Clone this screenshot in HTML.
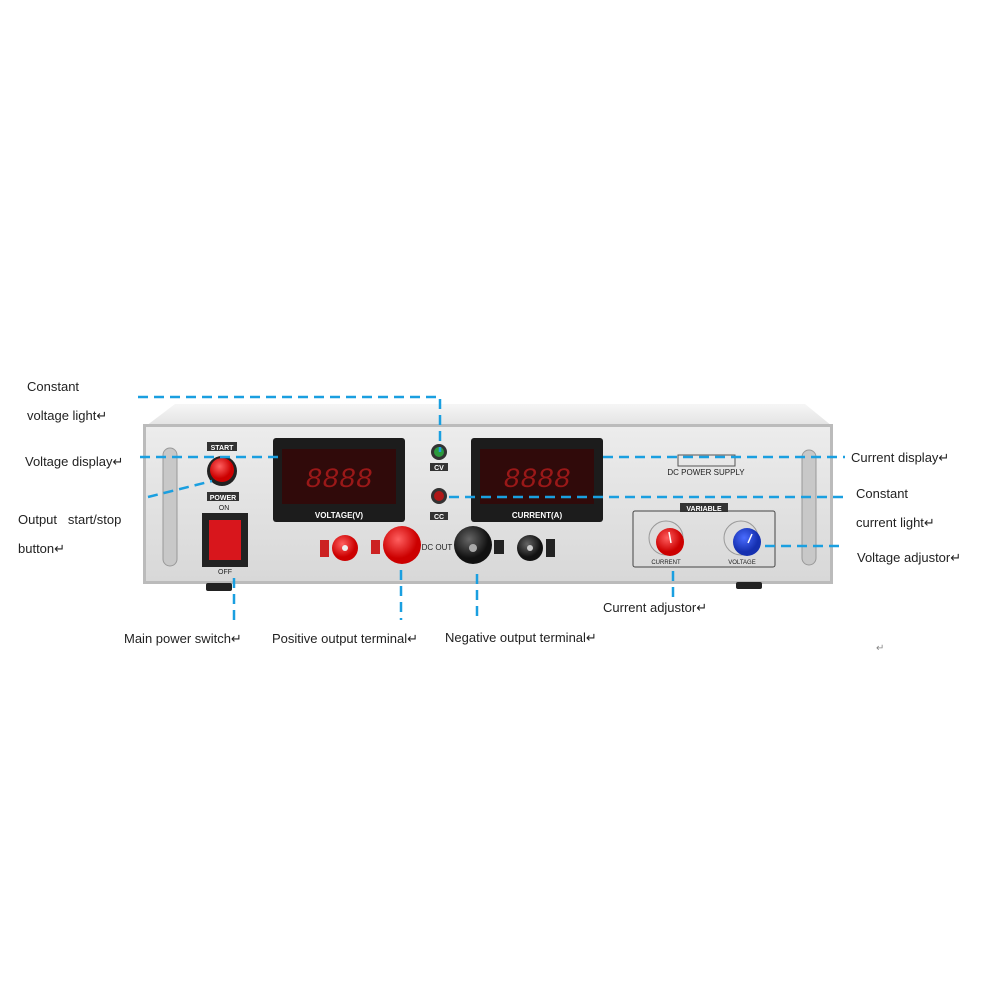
<!DOCTYPE html>
<html><head><meta charset="utf-8"><style>
html,body{margin:0;padding:0;background:#fff}
svg{display:block}
text{font-family:"Liberation Sans",sans-serif;font-size:13px;fill:#222}
.s{font-size:7px;fill:#fff;font-weight:bold}
.d{stroke:#1a9fe0;stroke-width:2.5;stroke-dasharray:10,6;fill:none}
.seg{font-family:"Liberation Mono",monospace;font-size:28px;fill:#9a1818;font-style:italic}
</style></head><body>
<svg width="1000" height="1000" viewBox="0 0 1000 1000" xmlns="http://www.w3.org/2000/svg">
<defs>
<linearGradient id="top" x1="0" y1="0" x2="0" y2="1"><stop offset="0" stop-color="#f6f6f6"/><stop offset="1" stop-color="#e2e2e2"/></linearGradient>
<linearGradient id="face" x1="0" y1="0" x2="0" y2="1"><stop offset="0" stop-color="#ececec"/><stop offset="1" stop-color="#d8d8d8"/></linearGradient>
<radialGradient id="red" cx="0.4" cy="0.35"><stop offset="0" stop-color="#ff6060"/><stop offset="1" stop-color="#c00"/></radialGradient>
<radialGradient id="blk" cx="0.4" cy="0.35"><stop offset="0" stop-color="#666"/><stop offset="1" stop-color="#111"/></radialGradient>
<radialGradient id="blu" cx="0.4" cy="0.35"><stop offset="0" stop-color="#4a6cff"/><stop offset="1" stop-color="#1530b0"/></radialGradient>
</defs>
<polygon points="146,426 175,404 805,404 832,426" fill="url(#top)"/>
<rect x="143" y="424" width="690" height="160" fill="#bbb"/>
<rect x="146" y="427" width="684" height="154" fill="url(#face)"/>
<rect x="206" y="583" width="26" height="8" rx="2" fill="#222"/>
<rect x="736" y="582" width="26" height="7" rx="2" fill="#222"/>
<rect x="163" y="448" width="14" height="118" rx="7" fill="#c8c8c8" stroke="#999"/>
<rect x="802" y="450" width="14" height="115" rx="7" fill="#c8c8c8" stroke="#999"/>
<rect x="207" y="442" width="30" height="9" fill="#333"/><text x="222" y="450" class="s" text-anchor="middle">START</text>
<circle cx="222" cy="471" r="15" fill="#222"/><circle cx="222" cy="470" r="12" fill="url(#red)"/>
<rect x="207" y="492" width="32" height="9" fill="#333"/><text x="223" y="500" class="s" text-anchor="middle">POWER</text>
<text x="224" y="510" style="font-size:7px" text-anchor="middle" fill="#333">ON</text>
<rect x="202" y="513" width="46" height="54" fill="#222"/><rect x="209" y="520" width="32" height="40" fill="#d8161c"/>
<text x="225" y="574" style="font-size:7px" text-anchor="middle" fill="#333">OFF</text>
<rect x="273" y="438" width="132" height="84" rx="3" fill="#1c1c1c"/>
<rect x="282" y="449" width="114" height="55" fill="#300a0a"/>
<text x="339" y="487" class="seg" text-anchor="middle">8888</text>
<text x="339" y="518" class="s" style="font-size:8px" text-anchor="middle">VOLTAGE(V)</text>
<rect x="471" y="438" width="132" height="84" rx="3" fill="#1c1c1c"/>
<rect x="480" y="449" width="114" height="55" fill="#300a0a"/>
<text x="537" y="487" class="seg" text-anchor="middle">8888</text>
<text x="537" y="518" class="s" style="font-size:8px" text-anchor="middle">CURRENT(A)</text>
<circle cx="439" cy="452" r="8" fill="#333"/><circle cx="439" cy="452" r="5" fill="#2c9a3c"/>
<rect x="430" y="463" width="18" height="8" fill="#333"/><text x="439" y="470" class="s" text-anchor="middle">CV</text>
<circle cx="439" cy="496" r="8" fill="#333"/><circle cx="439" cy="496" r="5" fill="#b01818"/>
<rect x="430" y="512" width="18" height="8" fill="#333"/><text x="439" y="519" class="s" text-anchor="middle">CC</text>
<rect x="678" y="455" width="57" height="11" fill="none" stroke="#555"/>
<text x="706" y="475" style="font-size:8px" text-anchor="middle" fill="#444">DC POWER SUPPLY</text>
<rect x="320" y="540" width="9" height="17" fill="#c22"/>
<circle cx="345" cy="548" r="13" fill="url(#red)"/><circle cx="345" cy="548" r="3" fill="#eee"/>
<rect x="371" y="540" width="9" height="14" fill="#c22"/>
<circle cx="402" cy="545" r="19" fill="url(#red)"/>
<text x="437" y="550" style="font-size:8px" text-anchor="middle" fill="#333">DC OUT</text>
<circle cx="473" cy="545" r="19" fill="url(#blk)"/><circle cx="473" cy="548" r="4" fill="#aaa"/>
<rect x="494" y="540" width="10" height="14" fill="#222"/>
<circle cx="530" cy="548" r="13" fill="url(#blk)"/><circle cx="530" cy="548" r="3" fill="#ccc"/>
<rect x="546" y="539" width="9" height="18" fill="#222"/>
<rect x="633" y="511" width="142" height="56" rx="2" fill="none" stroke="#444"/>
<rect x="680" y="503" width="48" height="9" fill="#333"/><text x="704" y="511" class="s" text-anchor="middle">VARIABLE</text>
<circle cx="666" cy="538" r="17" fill="#ddd" stroke="#999"/><circle cx="670" cy="542" r="14" fill="url(#red)"/>
<line x1="671" y1="543" x2="669" y2="532" stroke="#fff" stroke-width="1.5"/>
<circle cx="741" cy="538" r="17" fill="#ddd" stroke="#999"/><circle cx="747" cy="542" r="14" fill="url(#blu)"/>
<line x1="748" y1="543" x2="752" y2="534" stroke="#fff" stroke-width="1.5"/>
<text x="666" y="564" style="font-size:6px" text-anchor="middle" fill="#333">CURRENT</text>
<text x="742" y="564" style="font-size:6px" text-anchor="middle" fill="#333">VOLTAGE</text>
<polyline class="d" points="138,397 440,397 440,452"/>
<line class="d" x1="140" y1="457" x2="280" y2="457"/>
<line class="d" x1="148" y1="497" x2="212" y2="481"/>
<line class="d" x1="449" y1="497" x2="845" y2="497"/>
<line class="d" x1="603" y1="457" x2="845" y2="457"/>
<line class="d" x1="765" y1="546" x2="845" y2="546"/>
<line class="d" x1="234" y1="578" x2="234" y2="626"/>
<line class="d" x1="401" y1="570" x2="401" y2="620"/>
<line class="d" x1="477" y1="574" x2="477" y2="616"/>
<line class="d" x1="673" y1="571" x2="673" y2="600"/>
<text x="27" y="391">Constant</text>
<text x="27" y="420">voltage light↵</text>
<text x="25" y="466">Voltage display↵</text>
<text x="18" y="524">Output&#160;&#160; start/stop</text>
<text x="18" y="553">button↵</text>
<text x="124" y="643">Main power switch↵</text>
<text x="272" y="643">Positive output terminal↵</text>
<text x="445" y="642">Negative output terminal↵</text>
<text x="603" y="612">Current adjustor↵</text>
<text x="851" y="462">Current display↵</text>
<text x="856" y="498">Constant</text>
<text x="856" y="527">current light↵</text>
<text x="857" y="562">Voltage adjustor↵</text>
<text x="876" y="651" style="font-size:10px;fill:#888">↵</text>
</svg>
</body></html>
